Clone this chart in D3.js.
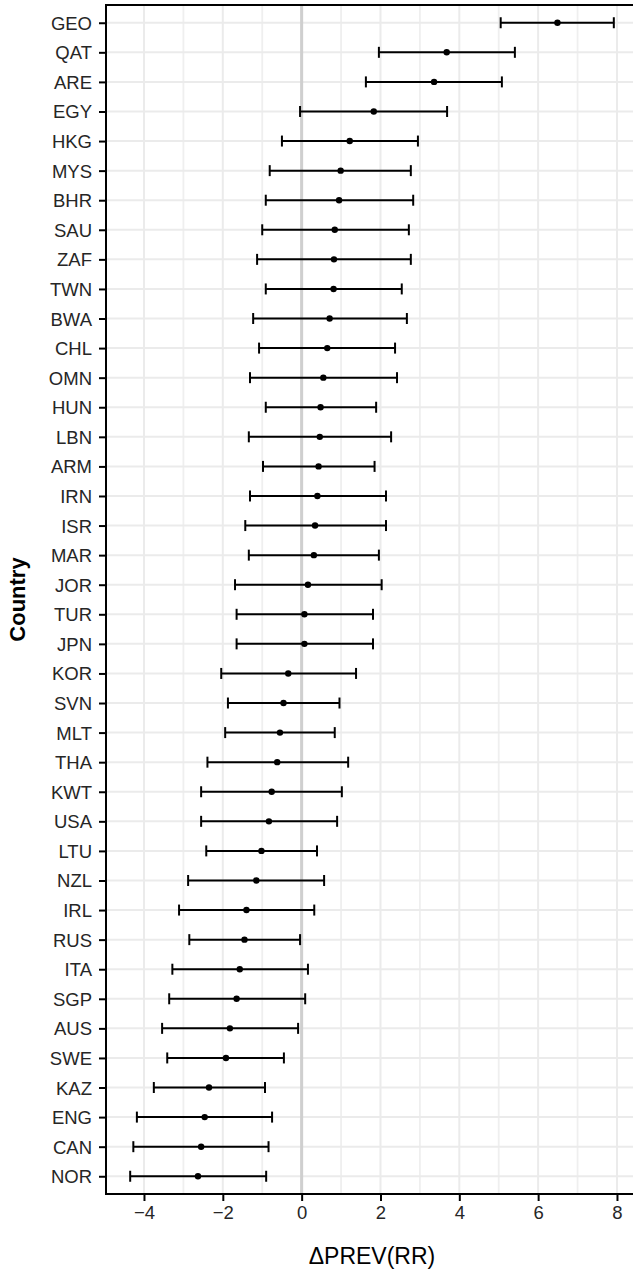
<!DOCTYPE html>
<meta charset="utf-8">
<style>
body { margin: 0; background: #fff; }
text { font-family: "Liberation Sans", Arial, Helvetica, sans-serif; }
</style>
<svg width="633" height="1269"></svg>
<script src="https://cdn.jsdelivr.net/npm/d3@7/dist/d3.min.js"></script>
<script>

// country order, top to bottom
var countries = ["GEO","QAT","ARE","EGY","HKG","MYS","BHR","SAU","ZAF","TWN",
  "BWA","CHL","OMN","HUN","LBN","ARM","IRN","ISR","MAR","JOR",
  "TUR","JPN","KOR","SVN","MLT","THA","KWT","USA","LTU","NZL",
  "IRL","RUS","ITA","SGP","AUS","SWE","KAZ","ENG","CAN","NOR"];

// point estimate of delta PREV (RR)
var estimate = [6.49,3.68,3.36,1.83,1.22,0.99,0.95,0.84,0.82,0.81,
  0.71,0.65,0.55,0.48,0.46,0.43,0.40,0.34,0.31,0.16,
  0.07,0.07,-0.34,-0.46,-0.55,-0.62,-0.76,-0.83,-1.02,-1.15,
  -1.40,-1.45,-1.57,-1.65,-1.82,-1.92,-2.35,-2.46,-2.55,-2.63];

// lower / upper interval bounds
var lower = [5.05,1.96,1.63,-0.04,-0.50,-0.81,-0.91,-1.00,-1.13,-0.91,
  -1.23,-1.08,-1.31,-0.91,-1.34,-0.98,-1.31,-1.43,-1.34,-1.69,
  -1.65,-1.65,-2.04,-1.87,-1.94,-2.39,-2.55,-2.55,-2.42,-2.88,
  -3.11,-2.85,-3.28,-3.36,-3.54,-3.41,-3.75,-4.18,-4.27,-4.35];

var upper = [7.92,5.41,5.08,3.69,2.95,2.77,2.83,2.72,2.77,2.54,
  2.67,2.37,2.42,1.89,2.27,1.85,2.14,2.14,1.96,2.03,
  1.81,1.81,1.38,0.96,0.84,1.18,1.02,0.90,0.39,0.57,
  0.32,-0.04,0.16,0.09,-0.09,-0.45,-0.93,-0.75,-0.84,-0.90];

var xTicks = [-4,-2,0,2,4,6,8];
var xMinor = [-3,-1,1,3,5,7];

(function() {

var data = countries.map(function(c, i) {
  return {country: c, est: estimate[i], lo: lower[i], hi: upper[i]};
});

var svg = d3.select("svg");

var pLeft = 106, pRight = 638, pTop = 5, pBottom = 1194;

// ggplot style 5% expansion
var xmin = d3.min(lower), xmax = d3.max(upper);
var pad = (xmax - xmin) * 0.05;
var x = d3.scaleLinear()
    .domain([xmin - pad, xmax + pad])
    .range([pLeft, pRight]);

var y = d3.scalePoint()
    .domain(countries)
    .range([pTop, pBottom])
    .padding(0.6);

var grid = svg.append("g").attr("class", "grid");

grid.selectAll("line.minor")
  .data(xMinor)
  .enter().append("line")
    .attr("x1", d => x(d)).attr("x2", d => x(d))
    .attr("y1", pTop).attr("y2", pBottom)
    .attr("stroke", "#efefef")
    .attr("stroke-width", 1.8);

grid.selectAll("line.major")
  .data(xTicks)
  .enter().append("line")
    .attr("x1", d => x(d)).attr("x2", d => x(d))
    .attr("y1", pTop).attr("y2", pBottom)
    .attr("stroke", "#ebebeb")
    .attr("stroke-width", 2);

grid.selectAll("line.hz")
  .data(countries)
  .enter().append("line")
    .attr("x1", pLeft).attr("x2", pRight)
    .attr("y1", d => y(d)).attr("y2", d => y(d))
    .attr("stroke", "#ebebeb")
    .attr("stroke-width", 2);

// reference line at zero
svg.append("line")
    .attr("x1", x(0)).attr("x2", x(0))
    .attr("y1", pTop).attr("y2", pBottom)
    .attr("stroke", "#cfcfcf")
    .attr("stroke-width", 3);

var bars = svg.append("g").selectAll("g")
  .data(data)
  .enter().append("g");

bars.append("line")
    .attr("x1", d => x(d.lo)).attr("x2", d => x(d.hi))
    .attr("y1", d => y(d.country)).attr("y2", d => y(d.country))
    .attr("stroke", "#000").attr("stroke-width", 2);

bars.append("line")
    .attr("x1", d => x(d.lo)).attr("x2", d => x(d.lo))
    .attr("y1", d => y(d.country) - 5.5).attr("y2", d => y(d.country) + 5.5)
    .attr("stroke", "#000").attr("stroke-width", 2);

bars.append("line")
    .attr("x1", d => x(d.hi)).attr("x2", d => x(d.hi))
    .attr("y1", d => y(d.country) - 5.5).attr("y2", d => y(d.country) + 5.5)
    .attr("stroke", "#000").attr("stroke-width", 2);

bars.append("circle")
    .attr("cx", d => x(d.est))
    .attr("cy", d => y(d.country))
    .attr("r", 3.2)
    .attr("fill", "#000");

// panel border (right side falls off the canvas)
svg.append("rect")
    .attr("x", pLeft).attr("y", pTop)
    .attr("width", pRight - pLeft).attr("height", pBottom - pTop)
    .attr("fill", "none")
    .attr("stroke", "#000")
    .attr("stroke-width", 2);

// axes
var xAxis = svg.append("g")
    .attr("transform", "translate(0," + pBottom + ")")
    .call(d3.axisBottom(x).tickValues(xTicks).tickSize(7).tickPadding(5)
      .tickFormat(d => d < 0 ? "\u2212" + Math.abs(d) : d));

var yAxis = svg.append("g")
    .attr("transform", "translate(" + pLeft + ",0)")
    .call(d3.axisLeft(y).tickSize(7).tickPadding(7));

[xAxis, yAxis].forEach(function(a) {
  a.attr("font-size", 18.5).attr("font-family", null);
  a.select(".domain").remove();
  a.selectAll(".tick line").attr("stroke", "#000").attr("stroke-width", 2);
  a.selectAll(".tick text").attr("fill", "#262626");
});

xAxis.selectAll(".tick text").attr("dy", "0.71em");
yAxis.selectAll(".tick text").attr("dy", "0.35em");

svg.append("text")
    .attr("x", (pLeft + pRight) / 2)
    .attr("y", 1264)
    .attr("text-anchor", "middle")
    .attr("fill", "#000")
    .style("font-size", "23px")
    .text("\u0394PREV(RR)");

svg.append("text")
    .attr("transform", "translate(24.5," + (pTop + pBottom) / 2 + ") rotate(-90)")
    .attr("text-anchor", "middle")
    .attr("fill", "#000")
    .style("font-size", "22px")
    .style("font-weight", "bold")
    .text("Country");

})();

</script>
